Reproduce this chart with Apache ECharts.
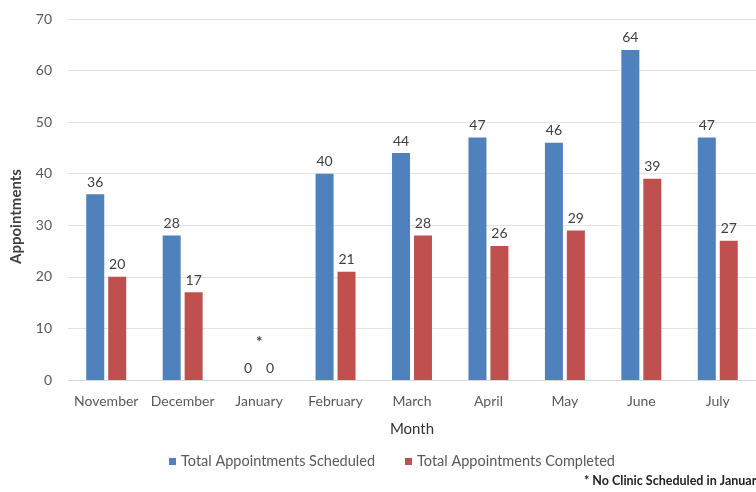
<!DOCTYPE html>
<html><head><meta charset="utf-8">
<script src="https://cdn.jsdelivr.net/npm/echarts@6/dist/echarts.min.js"></script>
<style>html,body{margin:0;padding:0;background:#fff}#c{width:756px;height:492px}</style>
</head><body><div id="c"></div>
<script>
const months = ["November","December","January","February","March","April","May","June","July"];
const scheduled = [36,28,0,40,44,47,46,64,47];
const completed = [20,17,0,21,28,26,29,39,27];
const yTicks = [0,10,20,30,40,50,60,70];
const FONT = "Lato";
const TXT = "#595959";
const chart = echarts.init(document.getElementById('c'));
chart.setOption({
  animation:false,
  textStyle:{fontFamily:FONT},
  grid:{left:68,right:0,top:19,bottom:112,containLabel:false},
  legend:{
    bottom:18,left:164,itemWidth:7,itemHeight:7,itemGap:30,
    textStyle:{fontFamily:FONT,fontSize:14.5,color:TXT},
    data:["Total Appointments Scheduled","Total Appointments Completed"],
    icon:'rect'
  },
  xAxis:{
    type:'category',data:months,
    name:'Month',nameLocation:'middle',nameGap:42,
    nameTextStyle:{fontFamily:FONT,fontSize:15,color:'#333333'},
    axisLine:{lineStyle:{color:'#D9D9D9'}},axisTick:{show:false},
    axisLabel:{color:TXT,fontSize:14,margin:14,interval:0}
  },
  yAxis:{
    type:'value',min:0,max:70,interval:10,
    name:'Appointments',nameLocation:'middle',nameGap:44,
    nameTextStyle:{fontFamily:FONT,fontSize:15,color:'#404040',fontWeight:'bold',padding:[0,34,0,0]},
    axisLabel:{color:TXT,fontSize:14,margin:16},
    splitLine:{lineStyle:{color:'#E3E3E3'}},
    axisLine:{show:false},axisTick:{show:false}
  },
  series:[
    {name:"Total Appointments Scheduled",type:'bar',data:scheduled,barWidth:18,barGap:'22%',
     itemStyle:{color:'#4F81BD'},
     label:{show:true,position:'top',color:'#404040',fontSize:14,fontFamily:FONT,distance:5}},
    {name:"Total Appointments Completed",type:'bar',data:completed,barWidth:18,
     itemStyle:{color:'#C0504D'},
     label:{show:true,position:'top',color:'#404040',fontSize:14,fontFamily:FONT,distance:5}}
  ]
});
const jan = chart.convertToPixel({xAxisIndex:0,yAxisIndex:0},["January",0]);
chart.setOption({graphic:[
  {type:'text',left:jan[0]-3,top:jan[1]-45,style:{text:'*',fill:'#404040',font:'bold 15px '+FONT}},
  {type:'text',left:584,top:474,style:{text:'* No Clinic Scheduled in January',fill:'#222',font:'bold 12.5px '+FONT}}
]});
</script></body></html>
